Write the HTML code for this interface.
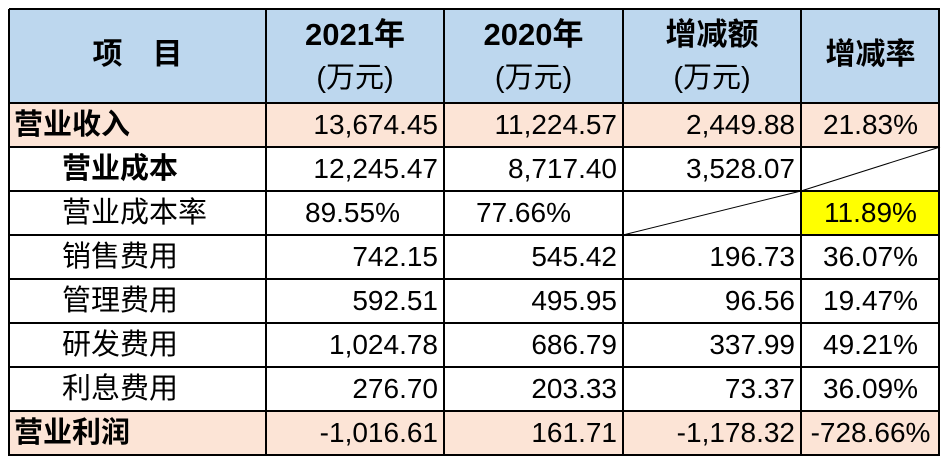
<!DOCTYPE html>
<html><head><meta charset="utf-8"><style>
body{margin:0;width:952px;height:465px;background:#fff;position:relative;overflow:hidden;font-family:"Liberation Sans","Noto Sans CJK SC",sans-serif;color:#000}
.c{position:absolute;box-sizing:border-box;font-size:28px;line-height:44px;white-space:nowrap}
.cn{font-size:29px}
.r{text-align:right;padding-right:6px}
.m{text-align:center}
.b{font-weight:bold}
.hl{position:absolute;height:2px;background:#000;left:9px;width:931px}
.vl{position:absolute;width:2px;background:#000;top:9px;height:447px}
</style></head><body>
<div style="position:absolute;left:9px;top:9px;width:931px;height:94px;background:#BDD7EE"></div>
<div style="position:absolute;left:9px;top:103px;width:931px;height:44px;background:#FCE4D6"></div>
<div style="position:absolute;left:9px;top:411px;width:931px;height:44px;background:#FCE4D6"></div>
<div style="position:absolute;left:801px;top:191px;width:139px;height:44px;background:#FFFF00"></div>

<div class="c b" style="left:9px;top:33px;width:257px;text-align:center;font-size:30px">项　目</div>
<div class="c" style="left:266px;top:14px;width:178px;text-align:center;line-height:42px;font-size:29px"><b style="font-size:31px">2021年</b><br>(万元)</div>
<div class="c" style="left:444px;top:14px;width:179px;text-align:center;line-height:42px;font-size:29px"><b style="font-size:31px">2020年</b><br>(万元)</div>
<div class="c" style="left:623px;top:14px;width:178px;text-align:center;line-height:42px;font-size:29px"><b style="font-size:31px">增减额</b><br>(万元)</div>
<div class="c b" style="left:801px;top:33px;width:139px;text-align:center;font-size:30px">增减率</div>

<div class="c b cn" style="left:14px;top:103px">营业收入</div>
<div class="c b cn" style="left:62px;top:147px">营业成本</div>
<div class="c cn" style="left:62px;top:191px">营业成本率</div>
<div class="c cn" style="left:62px;top:235px">销售费用</div>
<div class="c cn" style="left:62px;top:279px">管理费用</div>
<div class="c cn" style="left:62px;top:323px">研发费用</div>
<div class="c cn" style="left:62px;top:367px">利息费用</div>
<div class="c b cn" style="left:14px;top:411px">营业利润</div>

<div class="c r" style="left:266px;top:103px;width:178px">13,674.45</div>
<div class="c r" style="left:266px;top:147px;width:178px">12,245.47</div>
<div class="c" style="left:305px;top:191px">89.55%</div>
<div class="c r" style="left:266px;top:235px;width:178px">742.15</div>
<div class="c r" style="left:266px;top:279px;width:178px">592.51</div>
<div class="c r" style="left:266px;top:323px;width:178px">1,024.78</div>
<div class="c r" style="left:266px;top:367px;width:178px">276.70</div>
<div class="c r" style="left:266px;top:411px;width:178px">-1,016.61</div>

<div class="c r" style="left:444px;top:103px;width:179px">11,224.57</div>
<div class="c r" style="left:444px;top:147px;width:179px">8,717.40</div>
<div class="c" style="left:476px;top:191px">77.66%</div>
<div class="c r" style="left:444px;top:235px;width:179px">545.42</div>
<div class="c r" style="left:444px;top:279px;width:179px">495.95</div>
<div class="c r" style="left:444px;top:323px;width:179px">686.79</div>
<div class="c r" style="left:444px;top:367px;width:179px">203.33</div>
<div class="c r" style="left:444px;top:411px;width:179px">161.71</div>

<div class="c r" style="left:623px;top:103px;width:178px">2,449.88</div>
<div class="c r" style="left:623px;top:147px;width:178px">3,528.07</div>
<div class="c r" style="left:623px;top:235px;width:178px">196.73</div>
<div class="c r" style="left:623px;top:279px;width:178px">96.56</div>
<div class="c r" style="left:623px;top:323px;width:178px">337.99</div>
<div class="c r" style="left:623px;top:367px;width:178px">73.37</div>
<div class="c r" style="left:623px;top:411px;width:178px">-1,178.32</div>

<div class="c m" style="left:801px;top:103px;width:139px">21.83%</div>
<div class="c m" style="left:801px;top:191px;width:139px">11.89%</div>
<div class="c m" style="left:801px;top:235px;width:139px">36.07%</div>
<div class="c m" style="left:801px;top:279px;width:139px">19.47%</div>
<div class="c m" style="left:801px;top:323px;width:139px">49.21%</div>
<div class="c m" style="left:801px;top:367px;width:139px">36.09%</div>
<div class="c m" style="left:801px;top:411px;width:139px">-728.66%</div>

<svg style="position:absolute;left:0;top:0" width="952" height="465">
<line x1="623" y1="235" x2="801" y2="191" stroke="#000" stroke-width="1"/>
<line x1="801" y1="191" x2="940" y2="147" stroke="#000" stroke-width="1"/>
</svg>

<div class="hl" style="top:8px"></div>
<div class="hl" style="top:102px"></div>
<div class="hl" style="top:146px"></div>
<div class="hl" style="top:190px"></div>
<div class="hl" style="top:234px"></div>
<div class="hl" style="top:278px"></div>
<div class="hl" style="top:322px"></div>
<div class="hl" style="top:366px"></div>
<div class="hl" style="top:410px"></div>
<div class="hl" style="top:454px"></div>
<div class="vl" style="left:8px"></div>
<div class="vl" style="left:265px"></div>
<div class="vl" style="left:443px"></div>
<div class="vl" style="left:622px"></div>
<div class="vl" style="left:800px"></div>
<div class="vl" style="left:938px"></div>
</body></html>
